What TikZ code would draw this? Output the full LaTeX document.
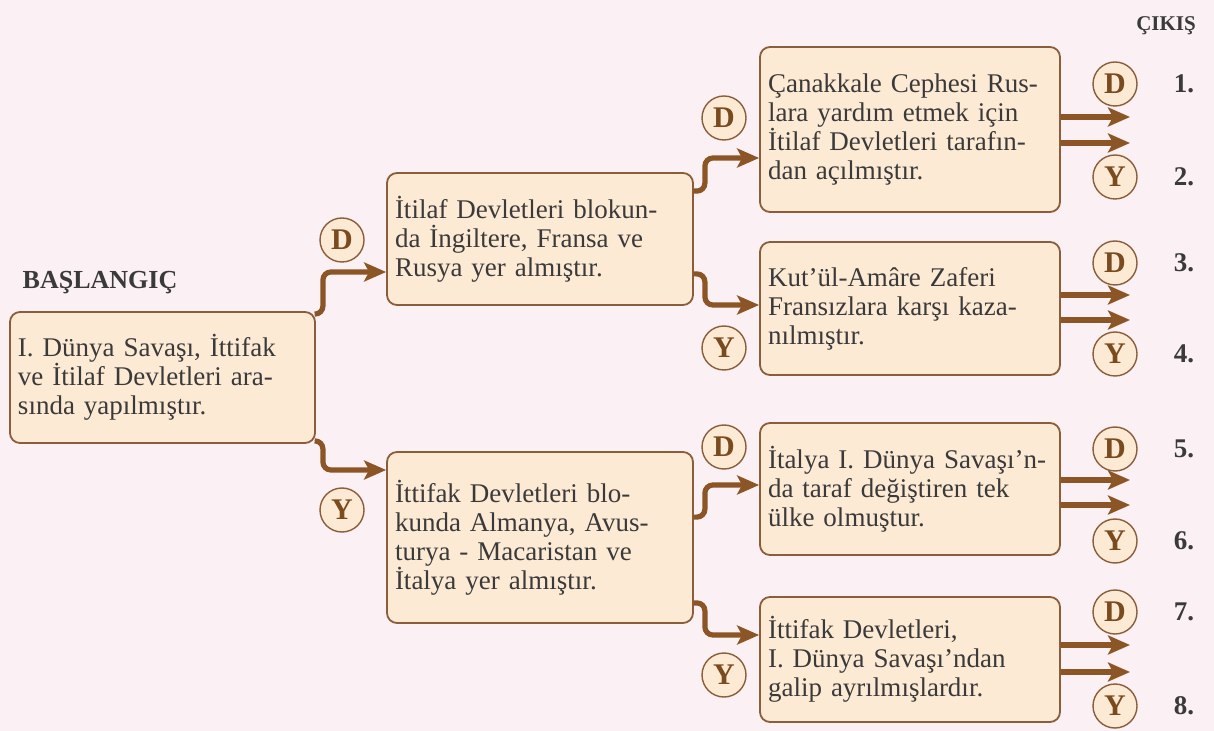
\documentclass[tikz,border=0pt]{standalone}
\usepackage{fontspec}
\setmainfont{Liberation Serif}
\usetikzlibrary{positioning,calc,arrows.meta}

\definecolor{arkaplan}{HTML}{FBF0F3}
\definecolor{kutuic}{HTML}{FDEAD4}
\definecolor{kenar}{HTML}{8A5D3B}
\definecolor{okrengi}{HTML}{8B5526}
\definecolor{yazi}{HTML}{3A3A3A}
\definecolor{harf}{HTML}{7A4B1F}

\begin{document}
\begin{tikzpicture}
  [
    x=0.5pt, y=-0.5pt,
    kutu/.style={draw=kenar, fill=kutuic, rounded corners=5pt, line width=0.9pt, align=left, inner xsep=4pt, text=yazi, font=\fontsize{13.5}{14.5}\selectfont},
    secim/.style={draw=kenar, fill=kutuic, circle, minimum size=22pt, inner sep=0pt, line width=0.7pt, text=harf, font=\fontsize{15}{15}\selectfont\bfseries},
    baslik/.style={text=yazi, font=\fontsize{13}{13}\selectfont\bfseries},
    numara/.style={text=yazi, font=\fontsize{13.5}{13.5}\selectfont\bfseries},
    akis/.style={draw=okrengi, line width=2.6pt, rounded corners=4pt, -{Stealth[length=11pt, width=9.5pt, inset=2.5pt]}},
  ]
  \fill [arkaplan] (0,0) rectangle (1214,731);
  \useasboundingbox (0,0) rectangle (1214,731);

  % kutular
  \node (baslangic) [kutu, text width=144.5pt, minimum height=65.5pt] at (162.5,377.5) {I. Dünya Savaşı, İttifak\\ve İtilaf Devletleri ara-\\sında yapılmıştır.};
  \node (itilaf) [kutu, text width=145pt, minimum height=66pt] at (540,239) {İtilaf Devletleri blokun-\\da İngiltere, Fransa ve\\Rusya yer almıştır.};
  \node (ittifak) [kutu, text width=145pt, minimum height=85.5pt] at (540,537.5) {İttifak Devletleri blo-\\kunda Almanya, Avus-\\turya - Macaristan ve\\İtalya yer almıştır.};
  \node (canakkale) [kutu, text width=142pt, minimum height=82.5pt] at (910,129.5) {Çanakkale Cephesi Rus-\\lara yardım etmek için\\İtilaf Devletleri tarafın-\\dan açılmıştır.};
  \node (kut) [kutu, text width=142pt, minimum height=66.5pt] at (910,308.5) {Kut'ül-Amâre Zaferi\\Fransızlara karşı kaza-\\nılmıştır.};
  \node (italya) [kutu, text width=142pt, minimum height=66pt] at (910,489) {İtalya I. Dünya Savaşı'n-\\da taraf değiştiren tek\\ülke olmuştur.};
  \node (galip) [kutu, text width=142pt, minimum height=62.5pt] at (910,659.5) {İttifak Devletleri,\\I. Dünya Savaşı'ndan\\galip ayrılmışlardır.};

  \node (giris) [baslik] at (100,283) {BAŞLANGIÇ};
  \node (cikis) [baslik, font=\fontsize{10.5}{10.5}\selectfont\bfseries] at (1166,26) {ÇIKIŞ};

  % ara baglantilar
  \draw [akis] ($(baslangic.north east)+(0,3)$) -- ++(7,0) |- ($(itilaf.west)+(0,33)$);
  \draw [akis] ($(baslangic.south east)+(0,-3)$) -- ++(7,0) |- ($(ittifak.west)+(0,-67.5)$);
  \draw [akis] ($(itilaf.north east)+(0,19)$) -- ++(11,0) |- ($(canakkale.west)+(0,28.5)$);
  \draw [akis] ($(itilaf.south east)+(0,-32)$) -- ++(11,0) |- ($(kut.west)+(0,-3.5)$);
  \draw [akis] ($(ittifak.north east)+(0,66)$) -- ++(11,0) |- ($(italya.west)+(0,-4)$);
  \draw [akis] ($(ittifak.south east)+(0,-21)$) -- ++(11,0) |- ($(galip.west)+(0,-24.5)$);

  \node (d1) [secim] at (342,240) {D};
  \node (y1) [secim] at (342,510) {Y};
  \node (d2) [secim] at (724,118) {D};
  \node (y2) [secim] at (724,348) {Y};
  \node (d3) [secim] at (724,447) {D};
  \node (y3) [secim] at (724,675) {Y};

  % cikis oklari
  \foreach \kutu/\ya/\yb in {canakkale/117/143, kut/295/320, italya/480/505, galip/645/672}
  {
    \coordinate (uc-\kutu-a) at (1130,\ya);
    \coordinate (uc-\kutu-b) at (1130,\yb);
    \draw [akis] (\kutu.east |- uc-\kutu-a) -- (uc-\kutu-a);
    \draw [akis] (\kutu.east |- uc-\kutu-b) -- (uc-\kutu-b);
  }

  \foreach \n/\h/\y in {1/D/84, 2/Y/177, 3/D/263, 4/Y/354, 5/D/449, 6/Y/541, 7/D/612, 8/Y/706}
  {
    \node (sag\n) [secim] at (1115,\y) {\h};
    \node (no\n) [numara] at (1184,\y) {\n.};
  }
\end{tikzpicture}
\end{document}
